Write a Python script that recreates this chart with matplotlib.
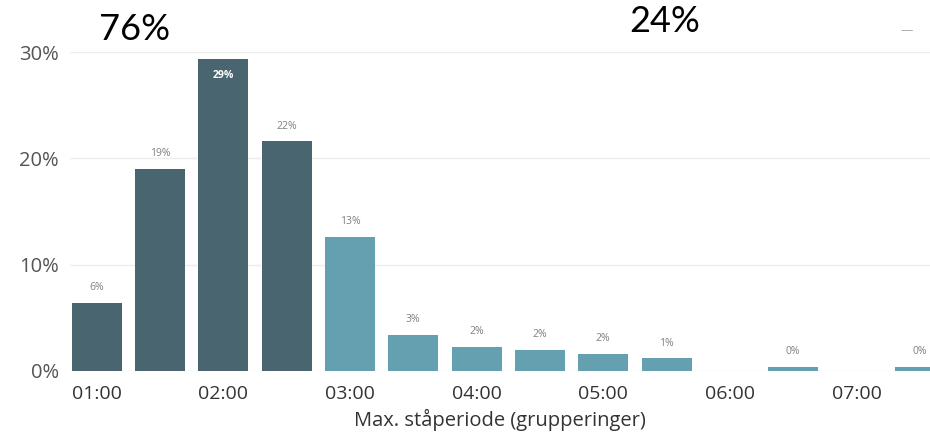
import matplotlib.pyplot as plt
import numpy as np

# 30-minute groups of the longest standing period
categories = ['01:00', '01:30', '02:00', '02:30', '03:00', '03:30', '04:00',
              '04:30', '05:00', '05:30', '06:00', '06:30', '07:00', '07:30']
shares = [6.4, 19.0, 29.3, 21.6, 12.6, 3.4, 2.3, 2.0, 1.6, 1.2, 0.0, 0.4, 0.0, 0.4]
labels = ['6%', '19%', '29%', '22%', '13%', '3%', '2%', '2%', '2%', '1%', '', '0%', '', '0%']
group = [0, 0, 0, 0, 1, 1, 1, 1, 1, 1, 1, 1, 1, 1]
tick_labels = ['01:00', '02:00', '03:00', '04:00', '05:00', '06:00', '07:00']
y_ticks = [0, 10, 20, 30]
totals = ['76%', '24%']

dark = '#49656f'
light = '#65a0b0'

fig = plt.figure(figsize=(9.3, 4.37), dpi=100)
ax = fig.add_axes([70 / 930, 1 - 371 / 437, 860 / 930, (371 - 52) / 437])

x = np.arange(len(categories))
colors = [dark if g == 0 else light for g in group]
bars = ax.bar(x, shares, width=0.79, color=colors, zorder=2)

for i, (b, lab) in enumerate(zip(bars, labels)):
    if lab == '':
        continue
    h = b.get_height()
    if i == 2:
        ax.text(b.get_x() + b.get_width() / 2, h - 1.0, lab, ha='center', va='top',
                fontsize=7.5, color='white', fontweight='bold', family='Open Sans')
    else:
        ax.text(b.get_x() + b.get_width() / 2, h + 0.9, lab, ha='center', va='bottom',
                fontsize=7.5, color='#808080', family='Open Sans')

ax.set_xlim(-0.42, 13.16)
ax.set_ylim(0, 30)
ax.set_yticks(y_ticks)
ax.set_yticklabels([f'{v}%' for v in y_ticks], family='Open Sans', fontsize=14.5, color='#555555')
ax.set_xticks(x[::2])
ax.set_xticklabels(tick_labels, family='Open Sans', fontsize=14, color='#333333')
ax.tick_params(length=0)
ax.tick_params(axis='x', pad=10)
ax.tick_params(axis='y', pad=8)
ax.grid(axis='y', color='#eeeeee', linewidth=1, zorder=0)
for s in ax.spines.values():
    s.set_visible(False)
ax.set_xlabel('Max. ståperiode (grupperinger)', family='Open Sans', fontsize=14.5,
              color='#333333', labelpad=4)

fig.text(135 / 930, 1 - 29 / 437, totals[0], ha='center', va='center',
         fontsize=26, family='Lato', color='black')
fig.text(665 / 930, 1 - 22 / 437, totals[1], ha='center', va='center',
         fontsize=26, family='Lato', color='black')
fig.text(907 / 930, 1 - 31 / 437, '—', ha='center', va='center',
         fontsize=9, color='#aaaaaa')

fig.savefig('out.png', dpi=100)
